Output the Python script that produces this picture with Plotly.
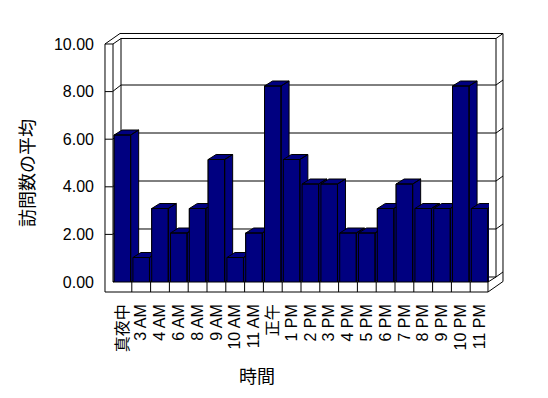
import plotly.graph_objects as go

# ---- data ----
categories = ["真夜中", "3 AM", "4 AM", "6 AM", "8 AM", "9 AM", "10 AM", "11 AM", "正午",
              "1 PM", "2 PM", "3 PM", "4 PM", "5 PM", "6 PM", "7 PM", "8 PM", "9 PM",
              "10 PM", "11 PM"]
values = [6, 1, 3, 2, 3, 5, 1, 2, 8, 5, 4, 4, 2, 2, 3, 4, 3, 3, 8, 3]
y_ticks = [0, 2, 4, 6, 8, 10]
y_title = "訪問数の平均"
x_title = "時間"

# ---- geometry (pixels of the 548x398 page) ----
W_FIG, H_FIG = 548, 398
L, R, T, B = 113, 489, 37, 282          # plot area
PW, PH = R - L, B - T
NAVY = "#000080"
FONT = "Liberation Sans, Arial, Noto Sans CJK JP, sans-serif"
CJK = "Noto Sans CJK JP, sans-serif"

n = len(categories)
x_unit = PW / n                 # px per category
y_unit = PH / 10.0              # px per value unit (bars)
front_unit = 23.8               # px per value unit on the front (tick) edge
bar_w = 0.88
dx = 8 / x_unit                 # 3D depth in data units
dy = 5 / y_unit


def px(x, y):
    return (x - L) / PW, (B - y) / PH


def path(points, close=False):
    s = ""
    for k, (x, y) in enumerate(points):
        a, b = px(x, y)
        s += ("M" if k == 0 else "L") + f"{a:.5f},{b:.5f} "
    if close:
        s += "Z"
    return s


fig = go.Figure()

# front faces as a bar trace
fig.add_trace(go.Bar(
    x=list(range(n)), y=values, width=bar_w,
    marker=dict(color=NAVY, line=dict(color="black", width=1)),
    hoverinfo="skip", showlegend=False,
))

# 3D boxes (side + top + front) drawn per bar, left to right
for i, v in enumerate(values):
    x0, x1 = i - bar_w / 2, i + bar_w / 2
    front = [(x0, 0), (x1, 0), (x1, v), (x0, v), (x0, 0)]
    side = [(x1, 0), (x1 + dx, dy), (x1 + dx, v + dy), (x1, v), (x1, 0)]
    top = [(x0, v), (x0 + dx, v + dy), (x1 + dx, v + dy), (x1, v), (x0, v)]
    xs, ys = [], []
    for poly in (side, top, front):
        xs += [p[0] for p in poly] + [None]
        ys += [p[1] for p in poly] + [None]
    fig.add_trace(go.Scatter(
        x=xs, y=ys, mode="lines", fill="toself", fillcolor=NAVY,
        line=dict(color="black", width=1), hoverinfo="skip",
        showlegend=False, connectgaps=False,
    ))

# ---- frame (walls and floor) ----
shapes = []
line = dict(color="black", width=1)


def add(points, close=False):
    shapes.append(dict(type="path", xref="paper", yref="paper",
                       path=path(points, close), line=line, layer="below"))


front_y = lambda v: B - front_unit * v   # front (left wall) scale
back_y = lambda v: 277 - 24.0 * v        # back wall scale

# outer silhouette
add([(105, 44), (120, 33.5), (503, 33.5), (503, 281.5), (488, 292), (105, 292), (105, 44)])
# left wall front face / floor front face
add([(105, 44), (113, 44), (113, 282), (488, 282), (488, 292)])
# inner faces
add([(113, 44), (121, 38.5), (496, 38.5), (496, 277), (488, 282)])
add([(496, 38.5), (503, 33.5)])
add([(121, 38.5), (121, 277), (496, 277)])
add([(113, 282), (121, 277)])
add([(496, 277), (503, 272)])
# gridlines
for v in y_ticks[1:-1]:
    f, b = front_y(v), back_y(v)
    add([(105, f), (112.5, f), (121, b), (496, b), (503, b - 5)])
# floor category divisions
for k in range(1, n):
    shapes.append(dict(type="line", xref="x", yref="paper",
                       x0=k - 0.5, x1=k - 0.5, y0=0, y1=-10 / PH,
                       line=line, layer="below"))

fig.update_layout(
    width=W_FIG, height=H_FIG,
    margin=dict(l=L, r=W_FIG - R, t=T, b=H_FIG - B, pad=0),
    paper_bgcolor="white", plot_bgcolor="rgba(0,0,0,0)",
    showlegend=False, shapes=shapes,
    font=dict(family=FONT, size=16, color="black"),
    xaxis=dict(range=[-0.5, n - 0.5], tickmode="array",
               tickvals=list(range(n)), ticktext=categories,
               tickangle=-90, showgrid=False, zeroline=False,
               showline=False, ticks="", ticklabelstandoff=18,
               tickfont=dict(family=FONT, size=16, color="black")),
    yaxis=dict(range=[0, 10], showgrid=False, zeroline=False,
               showline=False, ticks="", tickmode="array",
               tickvals=[t * front_unit / y_unit for t in y_ticks],
               ticktext=[f"{t:.2f}" for t in y_ticks],
               ticklabelstandoff=18,
               tickfont=dict(family=FONT, size=16, color="black")),
    annotations=[
        dict(text=y_title, xref="paper", yref="paper",
             x=px(26, 173)[0], y=px(26, 173)[1], showarrow=False,
             textangle=-90, font=dict(family=CJK, size=18, color="black"),
             xanchor="center", yanchor="middle"),
        dict(text=x_title, xref="paper", yref="paper",
             x=px(257, 375)[0], y=px(257, 375)[1], showarrow=False,
             font=dict(family=CJK, size=18, color="black"),
             xanchor="center", yanchor="middle"),
    ],
)

fig.write_html("out.html", config={"displayModeBar": False},
               post_script="document.body.style.margin='0';")
